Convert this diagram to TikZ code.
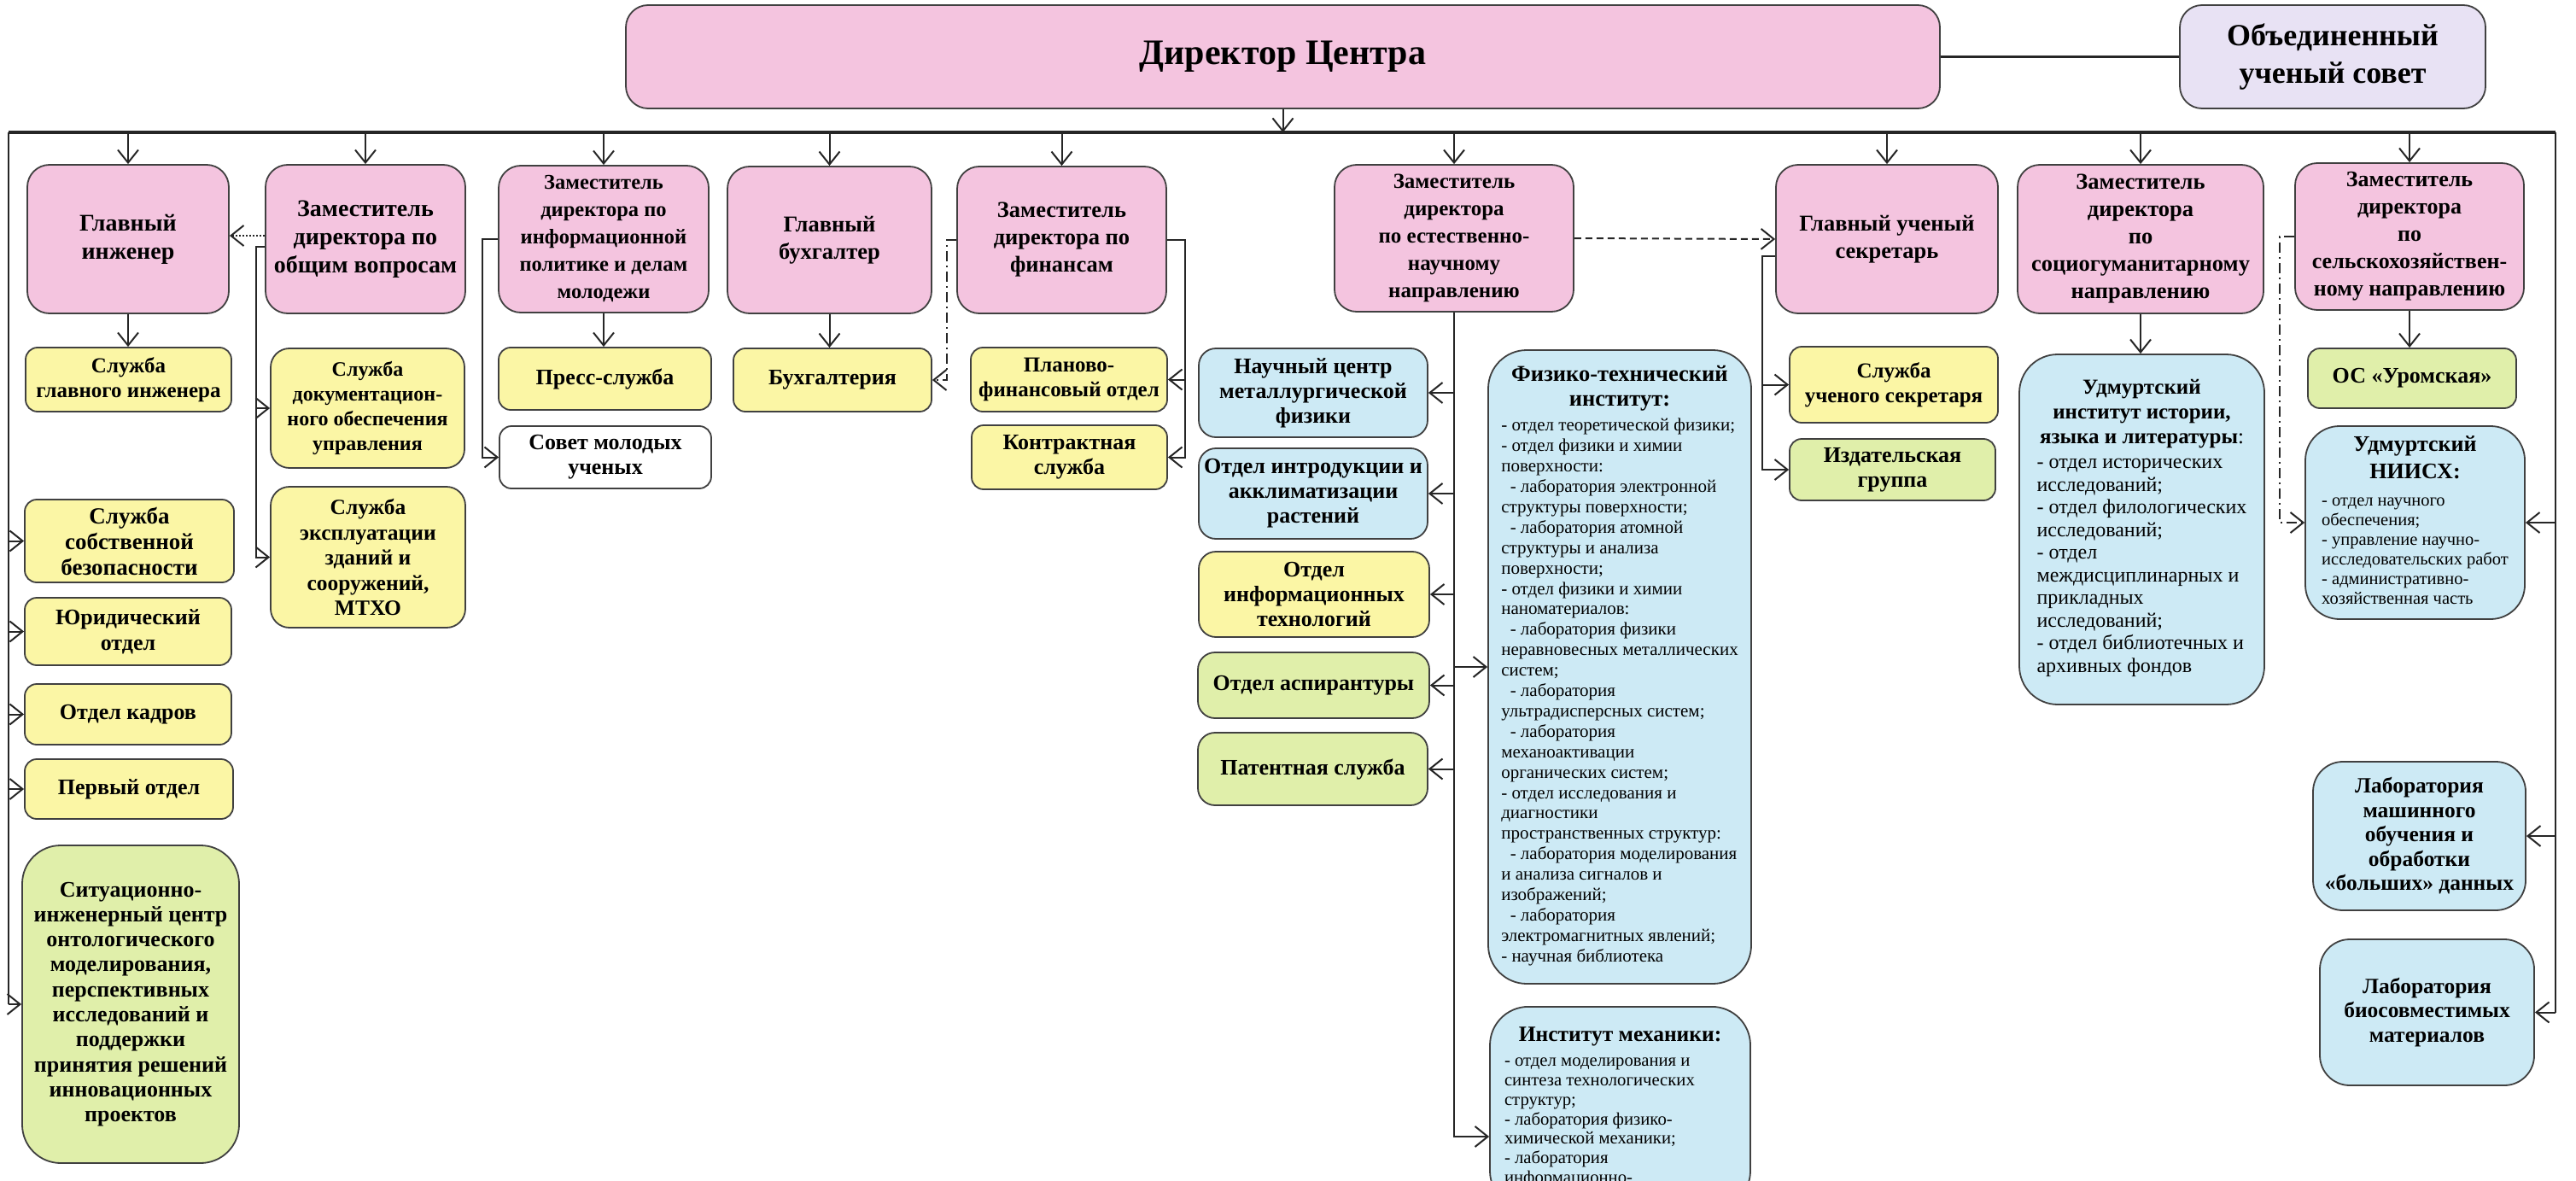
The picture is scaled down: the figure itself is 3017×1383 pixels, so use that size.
\documentclass[tikz,border=0pt]{standalone}
\usepackage{fontspec}
\setmainfont{Liberation Serif}
\usetikzlibrary{calc}
\usetikzlibrary{arrows.meta}
\usetikzlibrary{positioning}
\definecolor{BoxPink}{HTML}{F4C4DF}
\definecolor{BoxLilac}{HTML}{E8E2F4}
\definecolor{BoxYellow}{HTML}{FBF6A5}
\definecolor{BoxGreen}{HTML}{E0EFAA}
\definecolor{BoxBlue}{HTML}{CDEAF5}
\tikzset{
  sz/.style 2 args={minimum width=#1pt, minimum height=#2pt},
  fs/.style 2 args={font=\bfseries\fontsize{#1}{#2}\selectfont},
  unit/.style={draw=black!75, line width=1.8pt, align=center, inner sep=3pt, fs={25}{29}},
  head/.style={unit, fill=BoxPink, rounded corners=26pt, fs={26.5}{32}},
  yel/.style={unit, fill=BoxYellow, rounded corners=14pt},
  grn/.style={unit, fill=BoxGreen, rounded corners=14pt},
  blu/.style={unit, fill=BoxBlue, rounded corners=20pt, fs={26}{29}},
  link/.style={line width=2pt, draw=black!85},
  conn/.style={link, -{Straight Barb[length=15pt,width=24pt]}},
  dashed line/.style={dash pattern=on 8pt off 5pt},
  ddline/.style={dash pattern=on 12pt off 5pt on 2pt off 5pt},
}
\newcommand{\unitlist}[3]{{\mdseries\fontsize{#1}{#2}\selectfont
  \begin{tabular}[t]{@{}l@{}}#3\end{tabular}}}

\begin{document}
\begin{tikzpicture}[x=1pt, y=-1pt]
  \useasboundingbox (0,0) rectangle (3017,1383);
  \clip (0,0) rectangle (3017,1383);

  % head of the centre
  \node[head, sz={1539}{121}, fs={42}{50}] (dir) at (1502.5,66.5) {Директор Центра};
  \node[unit, fill=BoxLilac, rounded corners=26pt, sz={358}{121}, fs={36}{44}] (council) at (2732,66.5) {Объединенный\\ученый совет};

  \coordinate (busL) at (10,155);
  \coordinate (busR) at (2993,155);

  % second row
  \node[head, sz={236}{174}, fs={28}{33}] (glinz) at (150,280) {Главный\\инженер};
  \node[head, sz={234}{174}, fs={28}{33}] (zamgen) at (428,280) {Заместитель\\директора по\\общим вопросам};
  \node[head, sz={246}{172}, fs={24.5}{32}] (zaminfo) at (707,280) {Заместитель\\директора по\\информационной\\политике и делам\\молодежи};
  \node[head, sz={239}{172}] (glbuh) at (971.5,281) {Главный\\бухгалтер};
  \node[head, sz={245}{172}] (zamfin) at (1243.5,281) {Заместитель\\директора по\\финансам};
  \node[head, sz={280}{172}, fs={25}{32}] (zamnat) at (1703,279) {Заместитель\\директора\\по естественно-\\научному\\направлению};
  \node[head, sz={260}{174}] (glsec) at (2210,280) {Главный ученый\\секретарь};
  \node[head, sz={288}{174}] (zamsoc) at (2507,280) {Заместитель\\директора\\по\\социогуманитарному\\направлению};
  \node[head, sz={268}{172}, fs={26}{32}] (zamagr) at (2822,277) {Заместитель\\директора\\по\\сельскохозяйствен-\\ному направлению};

  % left column
  \node[yel, sz={241}{75}] (sgi) at (150.5,444.5) {Служба\\главного инженера};
  \node[yel, sz={245}{97}, fs={27}{30}] (sbez) at (151.5,633.5) {Служба\\собственной\\безопасности};
  \node[yel, sz={242}{79}, fs={26}{30}] (yur) at (150,739.5) {Юридический\\отдел};
  \node[yel, sz={242}{71}, fs={26}{30}] (kadr) at (150,836.5) {Отдел кадров};
  \node[yel, sz={244}{70}, fs={26}{30}] (perv) at (151,924) {Первый отдел};
  \node[grn, rounded corners=45pt, sz={254}{372}, fs={26}{29.3}] (sitc) at (153,1176) {Ситуационно-\\инженерный центр\\онтологического\\моделирования,\\перспективных\\исследований и\\поддержки\\принятия решений\\инновационных\\проектов};

  \node[yel, rounded corners=22pt, sz={227}{140}, fs={24}{29}] (sdoc) at (430.5,478) {Служба\\документацион-\\ного обеспечения\\управления};
  \node[yel, rounded corners=22pt, sz={228}{165}, fs={25.5}{29.5}] (sexp) at (431,652.5) {Служба\\эксплуатации\\зданий и\\сооружений,\\МТХО};
  \node[yel, sz={249}{73}, fs={26}{29}] (press) at (708.5,443.5) {Пресс-служба};
  \node[unit, fill=white, rounded corners=14pt, sz={248}{73}, fs={26}{29}] (smu) at (709,535.5) {Совет молодых\\ученых};
  \node[yel, sz={232}{74}, fs={26}{29}] (buh) at (975,445) {Бухгалтерия};
  \node[yel, sz={230}{75}] (plan) at (1252,444.5) {Планово-\\финансовый отдел};
  \node[yel, sz={229}{75}, fs={26}{29}] (kontr) at (1252.5,535.5) {Контрактная\\служба};

  % natural sciences
  \node[blu, sz={268}{104}] (ncmet) at (1538,460) {Научный центр\\металлургической\\физики};
  \node[blu, sz={268}{106}] (introd) at (1538,578) {Отдел интродукции и\\акклиматизации\\растений};
  \node[yel, rounded corners=20pt, sz={270}{100}, fs={26}{29}] (itdep) at (1539,696) {Отдел\\информационных\\технологий};
  \node[grn, rounded corners=20pt, sz={271}{77}, fs={26}{29}] (aspir) at (1538.5,802.5) {Отдел аспирантуры};
  \node[grn, rounded corners=20pt, sz={269}{85}, fs={26}{29}] (patent) at (1537.5,900.5) {Патентная служба};
  \node[blu, rounded corners=45pt, sz={308}{742}, fs={26.5}{29}] (fti) at (1897,781) {Физико-технический\\институт:\\
    \unitlist{21}{23.9}{- отдел теоретической физики;\\
    - отдел физики и химии\\
    поверхности:\\
    \hspace*{0.5em}- лаборатория электронной\\
    структуры поверхности;\\
    \hspace*{0.5em}- лаборатория атомной\\
    структуры и анализа\\
    поверхности;\\
    - отдел физики и химии\\
    наноматериалов:\\
    \hspace*{0.5em}- лаборатория физики\\
    неравновесных металлических\\
    систем;\\
    \hspace*{0.5em}- лаборатория\\
    ультрадисперсных систем;\\
    \hspace*{0.5em}- лаборатория\\
    механоактивации\\
    органических систем;\\
    - отдел исследования и\\
    диагностики\\
    пространственных структур:\\
    \hspace*{0.5em}- лаборатория моделирования\\
    и анализа сигналов и\\
    изображений;\\
    \hspace*{0.5em}- лаборатория\\
    электромагнитных явлений;\\
    - научная библиотека}};
  \node[blu, rounded corners=45pt, anchor=north, minimum width=305pt, inner ysep=24pt, fs={25.5}{29}] (mech) at (1897.5,1178) {Институт механики:\\
    \unitlist{20.7}{22.8}{\makebox[271pt][l]{- отдел моделирования и}\\
    синтеза технологических\\
    структур;\\
    - лаборатория физико-\\
    химической механики;\\
    - лаборатория\\
    информационно-}};

  % secretary, humanities, agriculture
  \node[yel, sz={244}{89}] (secsrv) at (2218,450.5) {Служба\\ученого секретаря};
  \node[grn, sz={241}{72}, fs={26}{29}] (pubgr) at (2216.5,550) {Издательская\\группа};
  \node[blu, rounded corners=45pt, sz={287}{410}, fs={25}{29}] (udhist) at (2508.5,620) {Удмуртский\\институт истории,\\языка и литературы{\mdseries :}\\
    \unitlist{24}{26.5}{- отдел исторических\\
    исследований;\\
    - отдел филологических\\
    исследований;\\
    - отдел\\
    междисциплинарных и\\
    прикладных\\
    исследований;\\
    - отдел библиотечных и\\
    архивных фондов}};
  \node[grn, sz={244}{70}, fs={26}{29}] (uroms) at (2825,443) {ОС «Уромская»};
  \node[blu, rounded corners=40pt, sz={257}{226}, fs={26}{32}] (niisx) at (2828.5,612) {Удмуртский\\НИИСХ:\\
    \unitlist{20.5}{23}{- отдел научного\\
    обеспечения;\\
    - управление научно-\\
    исследовательских работ\\
    - административно-\\
    хозяйственная часть}};
  \node[blu, rounded corners=35pt, sz={249}{174}, fs={25.5}{28.5}] (mlab) at (2833.5,979) {Лаборатория\\машинного\\обучения и\\обработки\\«больших» данных};
  \node[blu, rounded corners=35pt, sz={251}{171}, fs={25.5}{28.5}] (biolab) at (2842.5,1185.5) {Лаборатория\\биосовместимых\\материалов};

  % main lines
  \draw[link, line width=4pt] (busL) -- (busR);
  \draw[link] (busL) -- (busL |- sitc.west);
  \draw[link] (busR) -- (busR |- biolab.east);
  \draw[link, line width=3pt] (dir.east) -- (council.west);
  \draw[conn] (dir.south) -- (dir.south |- busL);
  \foreach \n in {glinz,zamgen,zaminfo,glbuh,zamfin,zamnat,glsec,zamsoc,zamagr}
    \draw[conn] (\n.north |- busL) -- (\n.north);
  \foreach \n in {sbez,yur,kadr,perv,sitc}
    \draw[conn] (busL |- \n.west) -- (\n.west);
  \foreach \n in {niisx,mlab,biolab}
    \draw[conn] (busR |- \n.east) -- (\n.east);

  % subordinate links
  \draw[conn] (glinz.south) -- (glinz.south |- sgi.north);
  \coordinate (zgx) at ([xshift=-10pt,yshift=-9pt]zamgen.west);
  \draw[conn] ([yshift=-9pt]zamgen.west) -- (zgx) |- (sexp.west);
  \draw[conn] (zgx |- sdoc.west) -- (sdoc.west);
  \draw[conn, dotted] ([yshift=4pt]zamgen.west) -- ([yshift=4pt]zamgen.west -| glinz.east);

  \draw[conn] (zaminfo.south) -- (zaminfo.south |- press.north);
  \draw[conn] (zaminfo.west) -- ++(-18,0) |- (smu.west);
  \draw[conn] (glbuh.south) -- (glbuh.south |- buh.north);

  \draw[conn, ddline] (zamfin.west) -- ++(-11,0) |- (buh.east);
  \coordinate (zfx) at ([xshift=21pt]zamfin.east);
  \draw[conn] (zamfin.east) -- (zfx) |- (kontr.east);
  \draw[conn] (zfx |- plan.east) -- (plan.east);

  \draw[conn] (zamnat.south) |- ([yshift=-153pt]mech.north west);
  \foreach \n in {ncmet,introd,itdep,aspir,patent}
    \draw[conn] (zamnat.south |- \n.east) -- (\n.east);
  \draw[conn] (zamnat.south |- fti.west) -- (fti.west);
  \draw[conn, dashed line] (zamnat.east) -- (glsec.west);

  \coordinate (gsx) at ([xshift=-15pt,yshift=-20pt]glsec.west);
  \draw[conn] ([yshift=-20pt]glsec.west) -- (gsx) |- (pubgr.west);
  \draw[conn] (gsx |- secsrv.west) -- (secsrv.west);

  \draw[conn] (zamsoc.south) -- (zamsoc.south |- udhist.north);
  \draw[conn] (zamagr.south) -- (zamagr.south |- uroms.north);
  \draw[conn, ddline] (zamagr.west) -- ++(-17,0) |- (niisx.west);
\end{tikzpicture}
\end{document}
